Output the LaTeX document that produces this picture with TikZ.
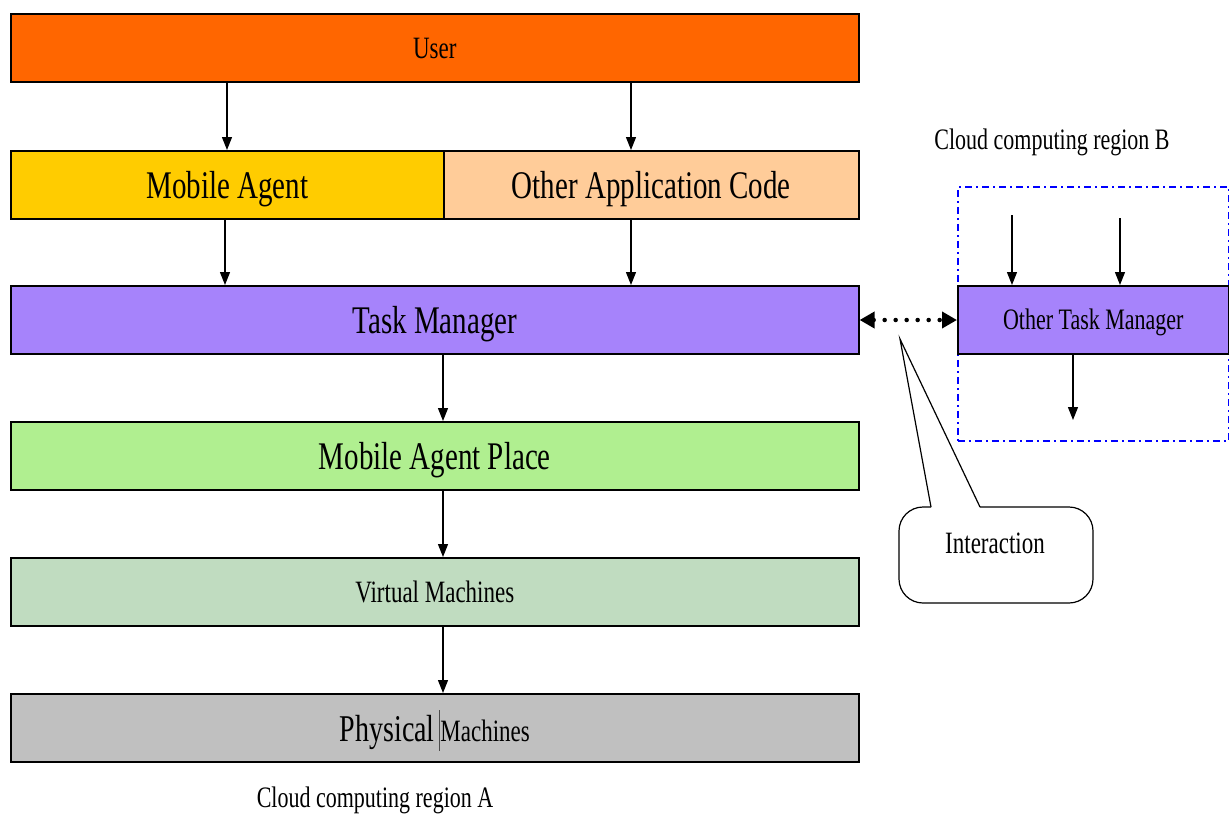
\documentclass[tikz,border=0pt]{standalone}
\usepackage{fontspec}
\setmainfont{Liberation Serif}
\usetikzlibrary{arrows.meta}
\definecolor{cuser}{HTML}{FF6600}
\definecolor{cma}{HTML}{FFCC00}
\definecolor{coac}{HTML}{FFCC99}
\definecolor{ctm}{HTML}{A683FB}
\definecolor{cmap}{HTML}{B0EF90}
\definecolor{cvm}{HTML}{C0DCC0}
\definecolor{cpm}{HTML}{C0C0C0}
\definecolor{cblue}{HTML}{0000FF}
\newcommand{\vst}[1]{\scalebox{1}[1.35]{#1}}
\tikzset{
  layer/.style={draw=black, line width=1.6pt, anchor=north west, inner sep=0pt, minimum height=68pt},
  big/.style={font=\fontsize{29}{32}\selectfont, text height=27pt, text depth=0pt},
  mid/.style={font=\fontsize{23}{26}\selectfont, text height=21pt, text depth=0pt},
  sml/.style={font=\fontsize{22}{25}\selectfont, text height=20pt, text depth=0pt},
  arr/.style={line width=1.2pt, -{Triangle[length=13pt,width=10pt]}},
}
\begin{document}
\begin{tikzpicture}[x=1pt,y=-1pt]
\useasboundingbox (0,0) rectangle (1229,814);
% layers of region A
\node[layer, fill=cuser, minimum width=848pt, mid] (user) at (10,13) {\vst{User}};
\node[layer, fill=cma, minimum width=433pt, big] (ma) at (10,150) {\vst{Mobile Agent}};
\node[layer, fill=coac, minimum width=415pt, big] (oac) at (443,150) {\vst{Other Application Code}};
\node[layer, fill=ctm, minimum width=848pt, big] (tm) at (10,285) {\vst{Task Manager}};
\node[layer, fill=cmap, minimum width=848pt, big] (map) at (10,421) {\vst{Mobile Agent Place}};
\node[layer, fill=cvm, minimum width=848pt, mid] (vm) at (10,557) {\vst{Virtual Machines}};
\node[layer, fill=cpm, minimum width=848pt, big] (pm) at (10,693) {\vst{{\fontsize{28}{32}\selectfont Physical}\hspace{4pt}\textcolor{black!70}{\rule[-7pt]{0.7pt}{30pt}}\hspace{1pt}{\fontsize{23}{26}\selectfont Machines}}};
\node[sml, anchor=center] (labA) at (375,797) {\vst{Cloud computing region A}};
% arrows region A
\draw[arr] (user.south -| 227,0) -- (ma.north -| 227,0);
\draw[arr] (user.south -| 631,0) -- (oac.north -| 631,0);
\draw[arr] (ma.south -| 225,0) -- (tm.north -| 225,0);
\draw[arr] (oac.south -| 631,0) -- (tm.north -| 631,0);
\draw[arr] (tm.south -| 443,0) -- (map.north -| 443,0);
\draw[arr] (map.south -| 443,0) -- (vm.north -| 443,0);
\draw[arr] (vm.south -| 443,0) -- (pm.north -| 443,0);
% region B
\node[sml] (labB) at (1052,139) {\vst{Cloud computing region B}};
\node[draw=cblue, line width=1.6pt, dash pattern=on 7pt off 4pt on 2pt off 4pt, anchor=north west, minimum width=271pt, minimum height=254pt, inner sep=0pt] (regB) at (957,186) {};
\node[layer, fill=ctm, minimum width=271pt, sml] (otm) at (957,285) {\vst{Other Task Manager}};
\coordinate (in1) at (1012,215);
\coordinate (in2) at (1120,218);
\coordinate (out1) at (1073,420);
\draw[arr] (in1) -- (otm.north -| in1);
\draw[arr] (in2) -- (otm.north -| in2);
\draw[arr] (otm.south -| out1) -- (out1);
% interaction
\draw[line width=4.5pt, line cap=round, dash pattern=on 0pt off 11pt, {Triangle[length=15pt,width=16pt]}-{Triangle[length=15pt,width=16pt]}] (tm.east |- 0,320) -- (otm.west |- 0,320);
\coordinate (tip) at (900,339);
\coordinate (legL) at (931,507);
\coordinate (legR) at (980,507);
\draw[line width=1.2pt, rounded corners=24pt] (legL) -- (899,507) -- (899,603) -- (1093,603) -- (1093,507) -- (legR);
\draw[line width=1.2pt, line join=miter] (legR) -- (tip) -- (legL);
\node[mid] (inter) at (995,543) {\vst{Interaction}};
\end{tikzpicture}
\end{document}
